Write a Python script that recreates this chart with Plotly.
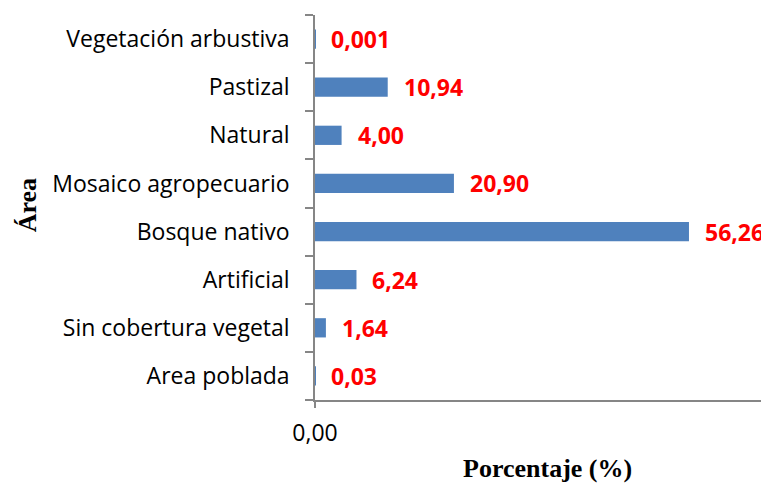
import plotly.graph_objects as go

categories = ["Area poblada", "Sin cobertura vegetal", "Artificial", "Bosque nativo",
              "Mosaico agropecuario", "Natural", "Pastizal", "Vegetación arbustiva"]
values = [0.03, 1.64, 6.24, 56.26, 20.90, 4.00, 10.94, 0.001]
value_labels = ["0,03", "1,64", "6,24", "56,26", "20,90", "4,00", "10,94", "0,001"]
x_tick_vals = [0]
x_tick_text = ["0,00"]

fig = go.Figure()
fig.add_trace(go.Bar(
    x=values, y=categories, orientation="h",
    marker=dict(color="#4F81BD", line=dict(width=0)),
    width=0.4, hoverinfo="skip",
))

for v, c, t in zip(values, categories, value_labels):
    fig.add_annotation(x=v, y=c, text=t, showarrow=False, xanchor="left", yanchor="middle",
                       xshift=14, font=dict(family="Open Sans", size=23, color="#FF0000", weight="bold"))

fig.add_annotation(x=0.513, y=-0.177, xref="paper", yref="paper", text="<b>Porcentaje (%)</b>",
                   showarrow=False, xanchor="center", yanchor="middle",
                   font=dict(family="Liberation Serif", size=26, color="black"))
fig.add_annotation(x=-0.634, y=0.506, xref="paper", yref="paper", text="<b>Área</b>",
                   showarrow=False, textangle=-90, xanchor="center", yanchor="middle",
                   font=dict(family="Liberation Serif", size=26, color="black"))

fig.update_layout(
    width=769, height=485,
    margin=dict(l=307, r=8, t=7, b=93),
    plot_bgcolor="white", paper_bgcolor="white",
    showlegend=False,
    font=dict(family="Open Sans", size=23, color="black"),
    xaxis=dict(range=[0, 68.3], showgrid=False, zeroline=False, showline=True,
               linecolor="#868686", linewidth=1.5, ticks="outside", ticklen=6,
               tickcolor="#868686", tickwidth=1.5,
               tickvals=x_tick_vals, ticktext=x_tick_text, ticklabelstandoff=6,
               tickfont=dict(family="Open Sans", size=23, color="black")),
    yaxis=dict(categoryorder="array", categoryarray=categories, showgrid=False,
               zeroline=False, showline=True, linecolor="#868686", linewidth=1.5,
               ticks="outside", ticklen=8, tickcolor="#868686", tickwidth=1.5,
               tickson="boundaries", ticklabelstandoff=19,
               tickfont=dict(family="Open Sans", size=23, color="black")),
)

fig.write_html("out.html")
